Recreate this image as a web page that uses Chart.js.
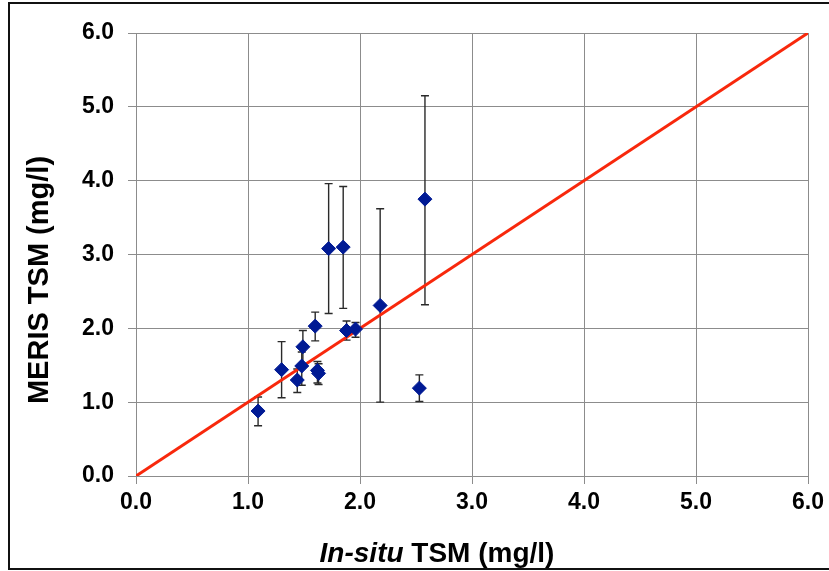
<!DOCTYPE html>
<html>
<head>
<meta charset="utf-8">
<script src="https://cdn.jsdelivr.net/npm/chart.js@4.4.0/dist/chart.umd.min.js"></script>
<style>
  body { margin: 0; background: #fff; }
  canvas { display: block; }
</style>
</head>
<body>
<canvas id="chart" width="829" height="571"></canvas>
<script>
// in-situ vs MERIS TSM (mg/l), error bars are min / max of the MERIS values
const insitu   = [1.09, 1.30, 1.44, 1.48, 1.49, 1.60, 1.62, 1.63, 1.72, 1.85, 1.88, 1.96, 2.18, 2.53, 2.58];
const meris    = [0.88, 1.44, 1.30, 1.49, 1.75, 2.03, 1.43, 1.39, 3.08, 3.10, 1.97, 1.99, 2.31, 1.19, 3.75];
const merisLow = [0.68, 1.06, 1.13, 1.23, 1.50, 1.83, 1.26, 1.24, 2.20, 2.27, 1.84, 1.88, 1.00, 1.01, 2.32];
const merisHigh= [1.07, 1.82, 1.45, 1.68, 1.97, 2.22, 1.55, 1.52, 3.96, 3.92, 2.10, 2.08, 3.62, 1.37, 5.15];

const lineX = [0, 6];
const lineY = [0, 6];
const tickValues = [0, 1, 2, 3, 4, 5, 6];

const FONT = "'Liberation Sans', Arial, Helvetica, sans-serif";

const extras = {
  id: 'extras',
  beforeDatasetsDraw(chart) {
    const ctx = chart.ctx;
    const xs = chart.scales.x, ys = chart.scales.y;
    ctx.save();
    ctx.strokeStyle = '#2a2a2a';
    ctx.lineWidth = 1.4;
    insitu.forEach((v, i) => {
      const px = xs.getPixelForValue(v);
      const lo = ys.getPixelForValue(merisLow[i]);
      const hi = ys.getPixelForValue(merisHigh[i]);
      ctx.beginPath();
      ctx.moveTo(px, lo);
      ctx.lineTo(px, hi);
      ctx.moveTo(px - 4, lo);
      ctx.lineTo(px + 4, lo);
      ctx.moveTo(px - 4, hi);
      ctx.lineTo(px + 4, hi);
      ctx.stroke();
    });
    ctx.restore();
  },
  afterDraw(chart) {
    const ctx = chart.ctx;
    ctx.save();
    ctx.fillStyle = '#000';

    // x title: "In-situ" italic, rest upright
    const part1 = 'In-situ';
    const part2 = ' TSM (mg/l)';
    const f1 = 'italic bold 28px ' + FONT;
    const f2 = 'bold 28px ' + FONT;
    ctx.font = f1;
    const w1 = ctx.measureText(part1).width;
    ctx.font = f2;
    const w2 = ctx.measureText(part2).width;
    let x0 = 437 - (w1 + w2) / 2;
    ctx.textBaseline = 'alphabetic';
    ctx.textAlign = 'left';
    ctx.font = f1;
    ctx.fillText(part1, x0, 562);
    ctx.font = f2;
    ctx.fillText(part2, x0 + w1, 562);

    // y title
    ctx.translate(40, 280);
    ctx.rotate(-Math.PI / 2);
    ctx.textAlign = 'center';
    ctx.textBaseline = 'middle';
    ctx.font = 'bold 29px ' + FONT;
    ctx.fillText('MERIS TSM (mg/l)', 0, 0);
    ctx.restore();

    // outer frame
    ctx.save();
    ctx.strokeStyle = '#111';
    ctx.lineWidth = 2;
    ctx.strokeRect(9, 3, 830, 566);
    ctx.restore();
  }
};

new Chart(document.getElementById('chart'), {
  data: {
    datasets: [
      {
        type: 'scatter',
        data: insitu.map((v, i) => ({ x: v, y: meris[i] })),
        pointStyle: 'rectRot',
        pointRadius: 7,
        pointBackgroundColor: '#001a94',
        pointBorderColor: '#001a94',
        pointBorderWidth: 1
      },
      {
        type: 'line',
        data: lineX.map((v, i) => ({ x: v, y: lineY[i] })),
        borderColor: '#f8280c',
        borderWidth: 3,
        pointRadius: 0,
        fill: false
      }
    ]
  },
  options: {
    responsive: false,
    animation: false,
    layout: { padding: { left: 0, right: 21, top: 33, bottom: 0 } },
    plugins: { legend: { display: false }, tooltip: { enabled: false } },
    scales: {
      x: {
        type: 'linear',
        min: 0, max: 6,
        afterFit(s) { s.height = 95; },
        afterBuildTicks(s) { s.ticks = tickValues.map(v => ({ value: v })); },
        grid: { color: '#8c8c8c', lineWidth: 1, tickLength: 8 },
        border: { color: '#8c8c8c' },
        ticks: {
          color: '#000',
          padding: 5,
          maxRotation: 0,
          font: { family: FONT, size: 23, weight: 'bold' },
          callback: v => v.toFixed(1)
        }
      },
      y: {
        type: 'linear',
        min: 0, max: 6,
        afterFit(s) { s.width = 136; },
        afterBuildTicks(s) { s.ticks = tickValues.map(v => ({ value: v })); },
        grid: { color: '#8c8c8c', lineWidth: 1, tickLength: 8 },
        border: { color: '#8c8c8c' },
        ticks: {
          color: '#000',
          padding: 14,
          font: { family: FONT, size: 23, weight: 'bold' },
          callback: v => v.toFixed(1)
        }
      }
    }
  },
  plugins: [extras]
});
</script>
</body>
</html>
